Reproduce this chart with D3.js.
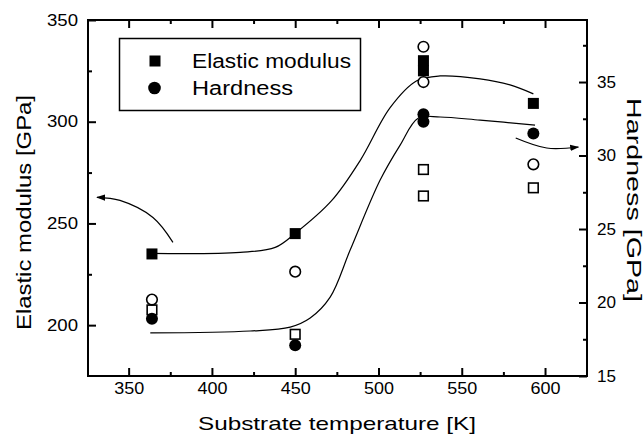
<!DOCTYPE html>
<html>
<head>
<meta charset="utf-8">
<script src="https://cdn.jsdelivr.net/npm/d3@7"></script>
<style>
  body { margin: 0; background: #fff; }
  text { font-family: "Liberation Sans", Arial, sans-serif; fill: #000; }
</style>
</head>
<body>
<script>
// measured data
var temps        = [364, 450, 527, 527, 593];
var modulus      = [235, 245, 330, 325, 309];        // filled squares, GPa (left)
var hardness     = [18.9, 17.1, 32.8, 32.3, 31.5];   // filled circles, GPa (right)
var temps2       = [364, 450, 527, 527, 593];
var modulusOpen  = [207.5, 195.5, 276.5, 263.5, 267.5];
var hardnessOpen = [20.2, 22.1, 37.4, 35.0, 29.4];

// hand drawn guide curves
var upperT = [363, 417, 438, 450, 472, 489, 507, 523, 537, 561, 579, 593];
var upperE = [235.3, 235.8, 238.2, 245.1, 261.3, 280.9, 306.9, 320.1, 322.5, 321.1, 318.1, 313.7];
var lowerT = [363, 423, 447, 459, 471, 483, 501, 513, 524, 537, 561, 594];
var lowerH = [17.93, 18.06, 18.33, 18.95, 20.37, 23.57, 28.33, 30.71, 32.55, 32.62, 32.41, 32.07];

// arrows (left one on modulus axis, right one on hardness axis)
var leftArrowT  = [376.6, 364.6, 344.8, 331];
var leftArrowE  = [240.7, 252.9, 261.3, 262.8];
var rightArrowT = [582.4, 601, 620];
var rightArrowH = [31.19, 30.51, 30.58];

var xTicks = [350, 400, 450, 500, 550, 600];
var xMinor = [375, 425, 475, 525, 575];
var leftTicks = [200, 250, 300, 350];
var leftMinor = [225, 275, 325];
var rightTicks = [15, 20, 25, 30, 35];
var rightMinor = [17.5, 22.5, 27.5, 32.5, 37.5];

var width = 644, height = 439;
var plotL = 88, plotR = 587, plotT = 20, plotB = 376;

var x = d3.scaleLinear().domain([325.6, 625.2]).range([plotL, plotR]);
var yE = d3.scaleLinear().domain([175, 350]).range([plotB, plotT]);
var yH = d3.scaleLinear().domain([15, 39.22]).range([plotB, plotT]);

var svg = d3.select("body").append("svg")
  .attr("width", width).attr("height", height);

svg.append("rect").attr("width", width).attr("height", height).attr("fill", "#fff");

var defs = svg.append("defs");
defs.append("marker").attr("id", "head")
  .attr("viewBox", "0 0 10 10").attr("refX", 9).attr("refY", 5)
  .attr("markerWidth", 9).attr("markerHeight", 9)
  .attr("markerUnits", "userSpaceOnUse").attr("orient", "auto")
  .append("path").attr("d", "M0,1.5 L10,5 L0,8.5 Z").attr("fill", "#000");

// axes
function styleAxis(g) {
  g.select(".domain").remove();
  g.selectAll(".tick line").attr("stroke", "#000").attr("stroke-width", 2);
  g.selectAll("text").style("font-size", "16px");
}

var gx = svg.append("g").attr("transform", "translate(0," + plotB + ")")
  .call(d3.axisBottom(x).tickValues(xTicks).tickSize(-8).tickPadding(7));
styleAxis(gx);
gx.selectAll("text").attr("textLength", 30).attr("lengthAdjust", "spacingAndGlyphs");
svg.append("g").attr("transform", "translate(0," + plotB + ")")
  .call(d3.axisBottom(x).tickValues(xMinor).tickSize(-4).tickFormat("")).call(styleAxis);
svg.append("g").attr("transform", "translate(0," + plotT + ")")
  .call(d3.axisTop(x).tickValues(xTicks).tickSize(-8).tickFormat("")).call(styleAxis);
svg.append("g").attr("transform", "translate(0," + plotT + ")")
  .call(d3.axisTop(x).tickValues(xMinor).tickSize(-4).tickFormat("")).call(styleAxis);

var gl = svg.append("g").attr("transform", "translate(" + plotL + ",0)")
  .call(d3.axisLeft(yE).tickValues(leftTicks).tickSize(-8).tickPadding(10));
styleAxis(gl);
gl.selectAll("text").attr("textLength", 31).attr("lengthAdjust", "spacingAndGlyphs");
svg.append("g").attr("transform", "translate(" + plotL + ",0)")
  .call(d3.axisLeft(yE).tickValues(leftMinor).tickSize(-4).tickFormat("")).call(styleAxis);

var gr = svg.append("g").attr("transform", "translate(" + plotR + ",0)")
  .call(d3.axisRight(yH).tickValues(rightTicks).tickSize(-8).tickPadding(10));
styleAxis(gr);
gr.selectAll("text").attr("textLength", 19).attr("lengthAdjust", "spacingAndGlyphs");
svg.append("g").attr("transform", "translate(" + plotR + ",0)")
  .call(d3.axisRight(yH).tickValues(rightMinor).tickSize(-4).tickFormat("")).call(styleAxis);

// frame
svg.append("rect").attr("x", plotL).attr("y", plotT)
  .attr("width", plotR - plotL).attr("height", plotB - plotT)
  .attr("fill", "none").attr("stroke", "#000").attr("stroke-width", 2);

// curves
var lineE = d3.line().x(function(d) { return x(d[0]); }).y(function(d) { return yE(d[1]); })
  .curve(d3.curveCatmullRom.alpha(0.5));
var lineH = d3.line().x(function(d) { return x(d[0]); }).y(function(d) { return yH(d[1]); })
  .curve(d3.curveCatmullRom.alpha(0.5));

svg.append("path").attr("d", lineE(d3.zip(upperT, upperE)))
  .attr("fill", "none").attr("stroke", "#000").attr("stroke-width", 1.2);
svg.append("path").attr("d", lineH(d3.zip(lowerT, lowerH)))
  .attr("fill", "none").attr("stroke", "#000").attr("stroke-width", 1.2);

svg.append("path").attr("d", lineE(d3.zip(leftArrowT, leftArrowE)))
  .attr("fill", "none").attr("stroke", "#000").attr("stroke-width", 1.2)
  .attr("marker-end", "url(#head)");
svg.append("path").attr("d", lineH(d3.zip(rightArrowT, rightArrowH)))
  .attr("fill", "none").attr("stroke", "#000").attr("stroke-width", 1.2)
  .attr("marker-end", "url(#head)");

// points
svg.append("g").selectAll("rect").data(d3.zip(temps2, modulusOpen)).join("rect")
  .attr("x", function(d) { return x(d[0]) - 4.8; })
  .attr("y", function(d) { return yE(d[1]) - 4.8; })
  .attr("width", 9.6).attr("height", 9.6)
  .attr("fill", "#fff").attr("stroke", "#000").attr("stroke-width", 1.6);

svg.append("g").selectAll("circle").data(d3.zip(temps2, hardnessOpen)).join("circle")
  .attr("cx", function(d) { return x(d[0]); })
  .attr("cy", function(d) { return yH(d[1]); })
  .attr("r", 5.3)
  .attr("fill", "#fff").attr("stroke", "#000").attr("stroke-width", 1.6);

svg.append("g").selectAll("rect").data(d3.zip(temps, modulus)).join("rect")
  .attr("x", function(d) { return x(d[0]) - 5.5; })
  .attr("y", function(d) { return yE(d[1]) - 5.5; })
  .attr("width", 11).attr("height", 11).attr("fill", "#000");

svg.append("g").selectAll("circle").data(d3.zip(temps, hardness)).join("circle")
  .attr("cx", function(d) { return x(d[0]); })
  .attr("cy", function(d) { return yH(d[1]); })
  .attr("r", 6).attr("fill", "#000");

// legend
var lg = svg.append("g");
lg.append("rect").attr("x", 119.5).attr("y", 38.5).attr("width", 241).attr("height", 72)
  .attr("fill", "#fff").attr("stroke", "#000").attr("stroke-width", 1.5);
lg.append("rect").attr("x", 149.5).attr("y", 55.5).attr("width", 11).attr("height", 11).attr("fill", "#000");
lg.append("circle").attr("cx", 154.5).attr("cy", 88).attr("r", 6.3).attr("fill", "#000");
lg.append("text").attr("x", 192).attr("y", 68).style("font-size", "20px")
  .attr("textLength", 159).attr("lengthAdjust", "spacingAndGlyphs").text("Elastic modulus");
lg.append("text").attr("x", 192).attr("y", 95).style("font-size", "20px")
  .attr("textLength", 101).attr("lengthAdjust", "spacingAndGlyphs").text("Hardness");

// axis titles
svg.append("text").attr("x", 337).attr("y", 430).attr("text-anchor", "middle")
  .style("font-size", "19px").attr("textLength", 278).attr("lengthAdjust", "spacingAndGlyphs")
  .text("Substrate temperature [K]");

svg.append("text").attr("transform", "translate(31,212.5) rotate(-90)")
  .attr("text-anchor", "middle").style("font-size", "21px")
  .attr("textLength", 235).attr("lengthAdjust", "spacingAndGlyphs")
  .text("Elastic modulus [GPa]");

svg.append("text").attr("transform", "translate(627,200) rotate(90)")
  .attr("text-anchor", "middle").style("font-size", "20px")
  .attr("textLength", 204).attr("lengthAdjust", "spacingAndGlyphs")
  .text("Hardness [GPa]");
</script>
</body>
</html>
